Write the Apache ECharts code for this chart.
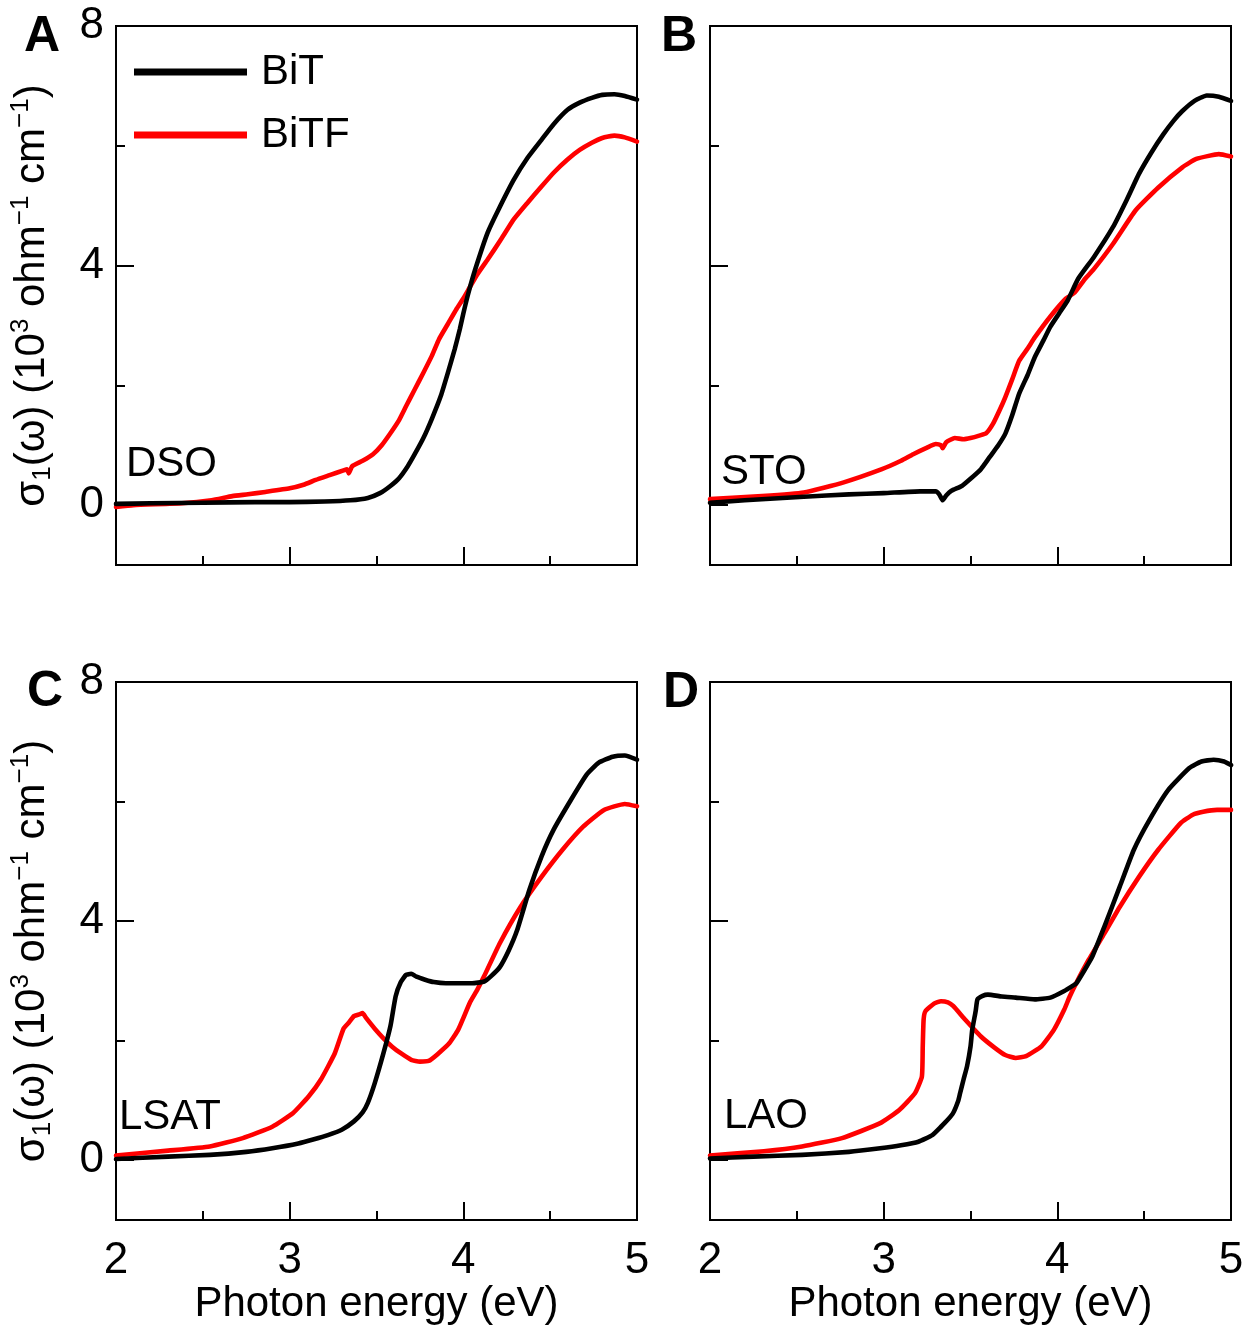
<!DOCTYPE html>
<html><head><meta charset="utf-8">
<script src="https://cdn.jsdelivr.net/npm/echarts@6/dist/echarts.min.js"></script>
<style>html,body{margin:0;padding:0;background:#fff}#c{width:1254px;height:1341px}</style>
</head><body><div id="c"></div><script>
// ---------- data ----------
const xMin = 2, xMax = 5, xInterval = 1;
const yMin = -1, yMax = 8;
const yMajorTicks = [0, 4, 8];
const yMinorTicks = [2, 6];
const panelLetters = ['A', 'B', 'C', 'D'];
const substrates = ['DSO', 'STO', 'LSAT', 'LAO'];
const seriesNames = ['BiT', 'BiTF'];
const xTitle = 'Photon energy (eV)';

// [photon energy (eV), sigma1 (10^3 ohm^-1 cm^-1)]
const dsoBiT = [[2.00,0.02],[2.20,0.03],[2.50,0.04],[2.80,0.05],[3.00,0.05],[3.20,0.06],[3.35,0.08],[3.45,0.12],[3.52,0.20],[3.58,0.32],[3.63,0.45],[3.68,0.65],[3.72,0.85],[3.77,1.12],[3.82,1.45],[3.87,1.82],[3.91,2.20],[3.95,2.60],[3.98,2.94],[4.00,3.20],[4.03,3.55],[4.07,3.95],[4.14,4.55],[4.20,4.92],[4.29,5.43],[4.37,5.80],[4.45,6.10],[4.52,6.36],[4.60,6.60],[4.67,6.72],[4.74,6.80],[4.80,6.85],[4.87,6.86],[4.93,6.83],[5.00,6.77]];
const dsoBiTF = [[2.00,-0.03],[2.10,0.00],[2.38,0.03],[2.55,0.08],[2.67,0.15],[2.76,0.18],[2.86,0.22],[3.00,0.28],[3.08,0.34],[3.15,0.42],[3.23,0.50],[3.31,0.58],[3.33,0.60],[3.34,0.53],[3.36,0.65],[3.42,0.74],[3.48,0.85],[3.53,1.00],[3.58,1.20],[3.63,1.42],[3.67,1.65],[3.72,1.93],[3.77,2.21],[3.82,2.50],[3.86,2.77],[3.91,3.02],[3.96,3.27],[4.00,3.45],[4.03,3.60],[4.08,3.85],[4.14,4.10],[4.22,4.45],[4.29,4.77],[4.37,5.05],[4.45,5.32],[4.52,5.55],[4.60,5.77],[4.67,5.93],[4.74,6.05],[4.80,6.13],[4.87,6.17],[4.93,6.14],[5.00,6.07]];
const stoBiT = [[2.00,0.04],[2.20,0.08],[2.54,0.14],[2.80,0.18],[3.00,0.20],[3.21,0.23],[3.30,0.23],[3.32,0.18],[3.34,0.08],[3.36,0.16],[3.39,0.24],[3.45,0.32],[3.50,0.44],[3.56,0.60],[3.61,0.80],[3.66,1.00],[3.70,1.19],[3.74,1.50],[3.78,1.86],[3.83,2.18],[3.87,2.47],[3.92,2.75],[3.96,2.98],[4.01,3.20],[4.06,3.42],[4.12,3.78],[4.21,4.14],[4.32,4.64],[4.40,5.10],[4.47,5.53],[4.54,5.88],[4.61,6.19],[4.67,6.42],[4.72,6.58],[4.79,6.75],[4.86,6.84],[4.93,6.82],[5.00,6.75]];
const stoBiTF = [[2.00,0.10],[2.30,0.15],[2.54,0.21],[2.77,0.38],[2.99,0.60],[3.10,0.74],[3.17,0.85],[3.25,0.96],[3.30,1.02],[3.33,1.00],[3.34,0.95],[3.36,1.05],[3.41,1.12],[3.46,1.10],[3.50,1.12],[3.55,1.16],[3.59,1.20],[3.63,1.36],[3.67,1.60],[3.70,1.80],[3.74,2.10],[3.78,2.41],[3.83,2.62],[3.87,2.80],[3.96,3.15],[4.05,3.45],[4.10,3.55],[4.16,3.78],[4.21,3.94],[4.32,4.36],[4.45,4.92],[4.58,5.30],[4.72,5.64],[4.80,5.78],[4.93,5.86],[5.00,5.82]];
const lsatBiT = [[2.00,0.02],[2.30,0.06],[2.54,0.09],[2.75,0.14],[2.90,0.20],[3.05,0.28],[3.14,0.35],[3.22,0.42],[3.30,0.51],[3.37,0.65],[3.42,0.80],[3.45,0.96],[3.49,1.29],[3.54,1.79],[3.58,2.24],[3.61,2.74],[3.64,2.98],[3.67,3.10],[3.70,3.12],[3.73,3.07],[3.78,3.02],[3.83,2.98],[3.90,2.96],[3.97,2.96],[4.05,2.96],[4.12,2.99],[4.16,3.08],[4.21,3.23],[4.26,3.50],[4.31,3.85],[4.38,4.52],[4.45,5.08],[4.52,5.53],[4.62,6.03],[4.71,6.45],[4.78,6.65],[4.86,6.75],[4.93,6.77],[5.00,6.70]];
const lsatBiTF = [[2.00,0.08],[2.30,0.16],[2.54,0.23],[2.73,0.37],[2.90,0.56],[3.02,0.79],[3.11,1.07],[3.18,1.35],[3.26,1.79],[3.31,2.20],[3.34,2.30],[3.37,2.41],[3.40,2.44],[3.42,2.46],[3.44,2.38],[3.49,2.20],[3.54,2.04],[3.59,1.90],[3.64,1.79],[3.70,1.68],[3.75,1.65],[3.80,1.66],[3.85,1.77],[3.92,1.96],[3.97,2.18],[4.04,2.65],[4.08,2.85],[4.12,3.08],[4.21,3.63],[4.33,4.24],[4.45,4.74],[4.57,5.19],[4.69,5.58],[4.81,5.86],[4.93,5.96],[5.00,5.92]];
const laoBiT = [[2.00,0.03],[2.25,0.06],[2.53,0.09],[2.80,0.14],[2.98,0.20],[3.10,0.25],[3.20,0.31],[3.28,0.42],[3.33,0.56],[3.37,0.68],[3.40,0.79],[3.43,1.00],[3.44,1.12],[3.46,1.35],[3.48,1.57],[3.50,1.90],[3.51,2.18],[3.53,2.50],[3.54,2.69],[3.57,2.75],[3.60,2.77],[3.68,2.74],[3.76,2.72],[3.87,2.69],[3.96,2.72],[4.04,2.83],[4.09,2.92],[4.11,2.96],[4.20,3.40],[4.27,3.90],[4.36,4.58],[4.44,5.19],[4.53,5.69],[4.64,6.20],[4.76,6.56],[4.83,6.67],[4.90,6.70],[4.96,6.67],[5.00,6.61]];
const laoBiTF = [[2.00,0.08],[2.31,0.15],[2.53,0.23],[2.76,0.37],[2.98,0.62],[3.09,0.84],[3.18,1.12],[3.22,1.40],[3.225,1.90],[3.23,2.35],[3.24,2.49],[3.29,2.62],[3.33,2.66],[3.37,2.64],[3.40,2.58],[3.47,2.35],[3.56,2.07],[3.64,1.88],[3.70,1.76],[3.76,1.71],[3.82,1.74],[3.91,1.91],[3.98,2.18],[4.04,2.52],[4.07,2.73],[4.11,2.97],[4.18,3.35],[4.27,3.79],[4.36,4.24],[4.47,4.74],[4.58,5.19],[4.71,5.64],[4.78,5.78],[4.84,5.83],[4.92,5.86],[5.00,5.86]];

const panelBiT = [dsoBiT, stoBiT, lsatBiT, laoBiT];
const panelBiTF = [dsoBiTF, stoBiTF, lsatBiTF, laoBiTF];

// ---------- layout / style ----------
const FONT = "'Liberation Sans', Arial, Helvetica, sans-serif";
const layout = [
  {left:116, top:26,  width:521, height:539},
  {left:710, top:26,  width:521, height:539},
  {left:116, top:682, width:521, height:538},
  {left:710, top:682, width:521, height:538}
];
const letterPos = [{left:24, top:12},{left:661, top:12},{left:27, top:667},{left:663, top:668}];
const subPos = [{left:126, top:443},{left:721, top:451},{left:119, top:1096},{left:724, top:1095}];
const BLACK = '#000000', RED = '#ff0000';
const LW = 4.6;

const grid = [], xAxis = [], yAxis = [], series = [], title = [];
const yName = '{s|σ}{sub|1}{s|(ω) (10}{sup|3}{s| ohm}{sup|−1}{s| cm}{sup|−1}{s|)}';

for (let p = 0; p < 4; p++) {
  grid.push(Object.assign({show:true, borderColor:'#000', borderWidth:2, backgroundColor:'transparent', containLabel:false}, layout[p]));
  const bottomRow = p >= 2, leftCol = p % 2 === 0;
  xAxis.push({
    type:'value', gridIndex:p, min:xMin, max:xMax, interval:xInterval,
    axisLine:{show:false, onZero:false},
    axisTick:{show:true, inside:true, length:18, lineStyle:{color:'#000', width:2}},
    minorTick:{show:true, splitNumber:2, length:9, lineStyle:{color:'#000', width:2}},
    splitLine:{show:false}, minorSplitLine:{show:false},
    axisLabel:{show:bottomRow, margin:19, fontSize:44, color:'#000', fontFamily:FONT, showMinLabel:true, showMaxLabel:true},
    name: bottomRow ? xTitle : '', nameLocation:'middle', nameGap:58,
    nameTextStyle:{fontSize:42, lineHeight:42, color:'#000', fontFamily:FONT}
  });
  yAxis.push({
    type:'value', gridIndex:p, position:'left', min:yMin, max:yMax,
    axisLine:{show:false, onZero:false},
    axisTick:{show:true, inside:true, length:18, customValues:yMajorTicks, lineStyle:{color:'#000', width:2}},
    axisLabel:{show:leftCol, customValues:yMajorTicks, margin:12, fontSize:44, color:'#000', fontFamily:FONT},
    splitLine:{show:false},
    name: leftCol ? yName : '', nameLocation:'middle', nameRotate:90, nameGap:60,
    nameTextStyle:{color:'#000', fontFamily:FONT, fontSize:42,
      rich:{
        s:{fontSize:42, lineHeight:48, color:'#000', fontFamily:FONT},
        sub:{fontSize:26, lineHeight:48, verticalAlign:'bottom', color:'#000', fontFamily:FONT},
        sup:{fontSize:26, lineHeight:48, verticalAlign:'top', color:'#000', fontFamily:FONT}
      }}
  });
  yAxis.push({
    type:'value', gridIndex:p, position:'left', min:yMin, max:yMax,
    axisLine:{show:false, onZero:false},
    axisTick:{show:true, inside:true, length:9, customValues:yMinorTicks, lineStyle:{color:'#000', width:2}},
    axisLabel:{show:false}, splitLine:{show:false}
  });
  series.push({
    type:'line', name:seriesNames[1], xAxisIndex:p, yAxisIndex:2*p, data:panelBiTF[p],
    showSymbol:false, symbol:'none', smooth:0.15,
    lineStyle:{width:LW, color:RED, join:'round', cap:'round'}, itemStyle:{color:RED}, z:2
  });
  series.push({
    type:'line', name:seriesNames[0], xAxisIndex:p, yAxisIndex:2*p, data:panelBiT[p],
    showSymbol:false, symbol:'none', smooth:0.15,
    lineStyle:{width:LW, color:BLACK, join:'round', cap:'round'}, itemStyle:{color:BLACK}, z:3
  });
  title.push({text:panelLetters[p], left:letterPos[p].left, top:letterPos[p].top, padding:0,
    textStyle:{fontSize:50, lineHeight:50, fontWeight:'bold', color:'#000', fontFamily:FONT}});
  title.push({text:substrates[p], left:subPos[p].left, top:subPos[p].top, padding:0,
    textStyle:{fontSize:42, lineHeight:42, fontWeight:'normal', color:'#000', fontFamily:FONT}});
}

const chart = echarts.init(document.getElementById('c'), null, {renderer:'canvas'});
chart.setOption({
  animation:false,
  backgroundColor:'#fff',
  title, grid, xAxis, yAxis, series,
  legend:{
    data:seriesNames, orient:'vertical', left:134, top:48, padding:0,
    itemWidth:113, itemHeight:7, itemGap:15, icon:'rect', selectedMode:false,
    textStyle:{fontSize:42, lineHeight:48, color:'#000', fontFamily:FONT, padding:[0,0,0,9]}
  }
});
</script></body></html>
